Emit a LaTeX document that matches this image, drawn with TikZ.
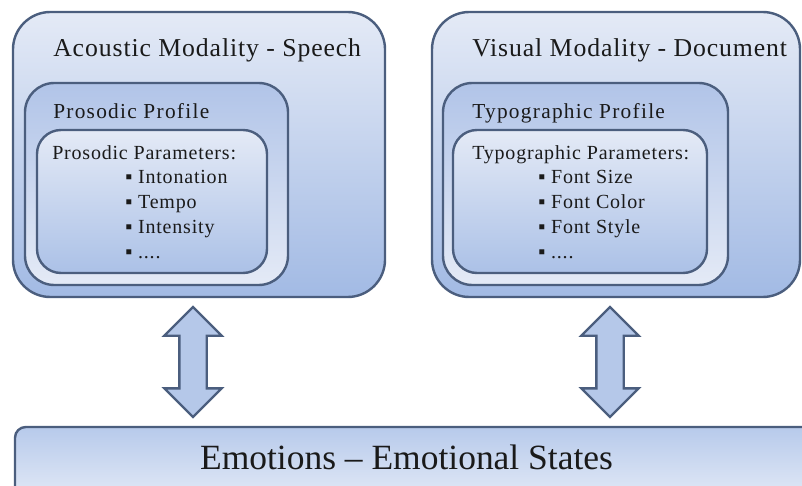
\documentclass[tikz,border=0pt]{standalone}
\usepackage{fontspec}
\setmainfont{Liberation Serif}
\newfontfamily\headfont[LetterSpace=3.5]{Liberation Serif}
\newfontfamily\profilefont[LetterSpace=6]{Liberation Serif}
\newfontfamily\paramfont[LetterSpace=4]{Liberation Serif}
\usetikzlibrary{shapes.arrows,calc}
\definecolor{modEdge}{HTML}{4B5E7E}
\definecolor{modLight}{HTML}{E4EAF6}
\definecolor{modDark}{HTML}{A2BAE4}
\definecolor{modMid}{HTML}{B1C4E8}
\definecolor{modBar}{HTML}{B7CAEB}
\definecolor{modText}{HTML}{1A1A1A}

\begin{document}
\begin{tikzpicture}[
    x=0.75pt, y=-0.75pt,
    panel/.style={draw=modEdge, line width=1.8pt, rounded corners=#1, inner sep=0pt},
    outerbox/.style={panel=28pt, top color=modLight, bottom color=modDark},
    profilebox/.style={panel=22pt, top color=modMid, bottom color=modLight},
    parambox/.style={panel=18pt, top color=modLight, bottom color=modDark!90},
    title/.style={anchor=base west, inner sep=0pt, text=modText, font=\headfont\fontsize{19.3}{23}\selectfont},
    profile/.style={anchor=base west, inner sep=0pt, text=modText, font=\profilefont\fontsize{16}{19}\selectfont},
    params/.style={anchor=base west, inner sep=0pt, text=modText, align=left, font=\paramfont\fontsize{15}{18.75}\selectfont},
    linkarrow/.style={shape=double arrow, rotate=90, draw=modEdge, line width=1.8pt,
                      fill=modDark!80!white, inner xsep=0pt, inner ysep=9.375pt,
                      minimum height=82.5pt, double arrow head extend=11.25pt}
]
    \useasboundingbox (0,0) rectangle (802,485);
    \clip (0,0) rectangle (802,485);

    % --- Acoustic ---
    \node[outerbox, minimum width=279pt, minimum height=213.75pt] (acoustic) at (199,154.5) {};
    \node[profilebox, minimum width=197.25pt, minimum height=151.5pt] (prosProfile) at (156.5,184) {};
    \node[parambox, minimum width=172.5pt, minimum height=107.25pt] (prosParams) at (152,201.5) {};
    \node[title] (acousticTitle) at (53,57) {Acoustic Modality - Speech};
    \node[profile] (prosLabel) at (53,118) {Prosodic Profile};
    \node[params] (prosHead) at (52,159) {Prosodic Parameters:};
    \node[params] (prosList) at (125,258) {▪ Intonation\\▪ Tempo\\▪ Intensity\\▪ ....};

    % --- Visual ---
    \node[outerbox, minimum width=276pt, minimum height=213.75pt] (visual) at (616,154.5) {};
    \node[profilebox, minimum width=213.75pt, minimum height=151.5pt] (typoProfile) at (585.5,184) {};
    \node[parambox, minimum width=190.5pt, minimum height=107.25pt] (typoParams) at (580,201.5) {};
    \node[title] (visualTitle) at (472,57) {Visual Modality - Document};
    \node[profile] (typoLabel) at (472,118) {Typographic Profile};
    \node[params] (typoHead) at (472,159) {Typographic Parameters:};
    \node[params] (typoList) at (538,258) {▪ Font Size\\▪ Font Color\\▪ Font Style\\▪ ....};

    % --- Emotions ---
    \node[panel=8pt, top color=modBar, bottom color=modLight!60!white,
          minimum width=626.25pt, minimum height=69.75pt] (emotions) at (432.5,473.5) {};
    \node[anchor=base, inner sep=0pt, text=modText, font=\fontsize{26.6}{30}\selectfont]
        (emotionsText) at (406.5,469) {Emotions -- Emotional States};

    \node[linkarrow] (linkA) at ($(acoustic.south)!0.5!(acoustic.south |- emotions.north)+(-6,0)$) {};
    \node[linkarrow] (linkB) at ($(visual.south)!0.5!(visual.south |- emotions.north)+(-6,0)$) {};
\end{tikzpicture}
\end{document}
